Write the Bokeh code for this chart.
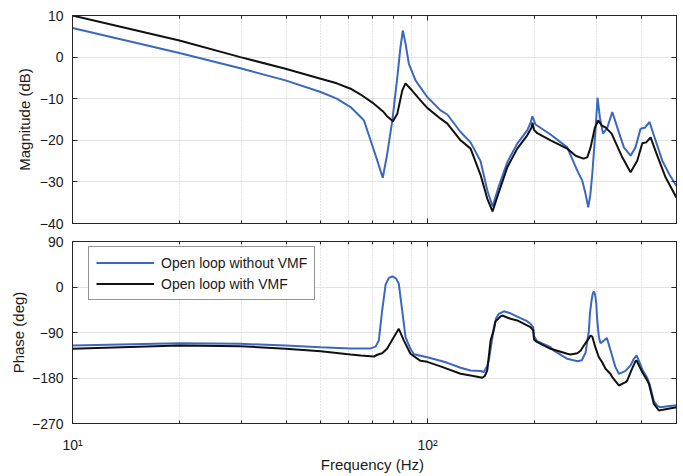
from bokeh.plotting import figure
from bokeh.layouts import column
from bokeh.models import (Range1d, FixedTicker, LinearAxis, LogAxis,
                          CustomJSTickFormatter, Legend, LegendItem)
from bokeh.embed import file_html
from bokeh.resources import INLINE

# ---- Bode data: open loop without / with VMF -------------------------------
# Magnitude (dB)
mag_nv_f = [10, 20, 29.7, 39.8, 50, 55.5, 60.7, 64.8, 66.2, 69.1, 72.2, 74.8,
            76.9, 79.6, 82.2, 83.9, 85.2, 86.7, 88.6, 92.5, 99.8, 108.8, 113.7,
            123.9, 132.2, 141, 147.3, 152.5, 158.8, 167.7, 178.9, 190.9, 195,
            197.4, 201.5, 222.1, 247.5, 264.1, 272.8, 278, 283.6, 287.5, 291.1,
            297.4, 301.2, 305.8, 312, 320.8, 331.4, 342.3, 357.3, 373.1, 385.3,
            398.1, 409, 422, 434, 458.3, 480, 502.6]
mag_nv = [7.0, 1.0, -2.7, -5.6, -8.4, -10.0, -12.0, -14.4, -15.2, -20.0, -24.9,
          -29.0, -23.5, -15.2, -4.8, 2.4, 6.4, 3.2, -1.6, -5.6, -9.6, -12.8,
          -13.8, -18.0, -20.5, -25.0, -32.0, -35.9, -31.0, -25.3, -20.8, -17.6,
          -15.8, -14.2, -16.2, -18.6, -21.7, -27.3, -29.7, -32.5, -36.1, -33.0,
          -28.1, -17.2, -9.8, -14.5, -18.4, -17.0, -13.2, -16.9, -21.7, -23.7,
          -21.7, -17.2, -17.0, -15.6, -18.8, -24.9, -28.2, -31.0]

mag_v_f = [10, 20, 29.7, 39.8, 50, 55.5, 60.7, 64.8, 70.6, 74.8, 76.9, 79.9,
           82.2, 84.9, 86.7, 89.5, 95.5, 99.8, 108.8, 113.7, 123.9, 132.2, 141,
           147.3, 152.4, 158.8, 167.7, 178.9, 190.9, 196.2, 197.6, 199.5, 203.7,
           222.1, 247.5, 261.2, 275, 281.8, 287.9, 296, 302.5, 310, 317.2, 330,
           353.6, 373.1, 389.6, 402.6, 413, 424.9, 443.6, 468.2, 502.6]
mag_v = [10.0, 4.0, 0.0, -2.8, -5.2, -6.3, -7.6, -9.0, -11.2, -13.0, -14.2,
         -15.4, -13.6, -8.0, -6.3, -7.6, -10.4, -12.2, -14.8, -16.0, -20.0, -22.0,
         -28.3, -34.0, -37.1, -32.5, -26.5, -22.0, -18.8, -17.0, -15.8, -17.5,
         -18.3, -20.0, -22.0, -23.7, -24.4, -24.1, -21.7, -17.0, -15.2, -16.5,
         -16.9, -18.4, -24.1, -27.7, -24.9, -20.7, -20.5, -19.3, -23.7, -28.9,
         -33.8]

# Phase (deg)
ph_nv_f = [10, 20, 29.7, 39.8, 50, 60.7, 69.1, 71.4, 72.9, 74.5, 76.2, 77.8,
           79.6, 81.5, 83.0, 84.9, 86.7, 89.5, 91.5, 99.8, 108.8, 113.7, 123.9,
           132.2, 141, 144.1, 147.3, 148.8, 151.5, 153.8, 156, 158.8, 164, 171.3,
           178.9, 190, 195, 198.5, 199.3, 203.7, 222.1, 227, 247.5, 264.1, 272,
           278.7, 284.8, 286.6, 289.7, 292, 294.1, 296.5, 298.8, 300.5, 303.8,
           307.1, 310.5, 320, 326, 331.4, 338, 345.8, 361.3, 373, 381.1, 387.9,
           395, 402.6, 415.9, 422, 434, 445, 453.3, 475, 502.6]
ph_nv = [-115.7, -111.1, -112.4, -115.7, -119.1, -121.5, -121.5, -118, -106,
         -46.5, 5, 18, 20.8, 17, 6.3, -48, -99.3, -122.2, -133, -139, -146, -150,
         -159.8, -165.1, -166, -168, -156, -145, -110, -79.5, -62, -53, -48, -52,
         -58.5, -67, -72.8, -80, -97, -107.2, -119.1, -126, -142.0, -146.7, -145,
         -130, -86, -53, -26.7, -13, -9, -15, -33, -65, -99.3, -111, -109, -101,
         -120, -137, -158, -171.7, -166, -155, -142, -135.5, -148, -163, -180,
         -192, -226, -236, -237.7, -236, -234]

ph_v_f = [10, 20, 29.7, 39.8, 50, 60.7, 64.8, 70.6, 72.2, 74.5, 76.9, 80.4, 83.0,
          85.8, 89.5, 95.5, 99.8, 108.8, 123.9, 132.2, 138, 142.6, 145, 147.3,
          150.5, 153.8, 155.4, 160.5, 162.3, 171.3, 178.9, 195, 198.5, 199.6,
          203.7, 222.1, 247.5, 252.8, 264.1, 269.8, 275.6, 281.8, 287.9, 291.1,
          296.5, 303.8, 310.5, 317.2, 327.7, 331.4, 345.8, 361.3, 365.3, 375,
          385.3, 387.9, 395, 402.6, 415.9, 420.2, 434, 448.3, 460, 502.6]
ph_v = [-122.3, -115.7, -117.1, -122.2, -127.0, -133.5, -135.5, -137.5, -134,
        -131, -122, -99, -82.7, -106, -132, -146, -148, -157, -171.7, -175,
        -177.5, -179.6, -176, -165, -106, -84, -68, -58.3, -56.4, -62.9, -66.2,
        -79.5, -86, -104.4, -109, -122.2, -132.1, -133.5, -130.9, -126, -115.7,
        -106, -95.9, -98, -118, -139, -149, -161.8, -172, -178.4, -194.8, -188.3,
        -184.9, -165, -146.7, -145.4, -157, -168.5, -184.9, -191.5, -231, -244.3,
        -243, -237.7]

freq_ticks = [10, 100]
freq_minor = [20, 30, 40, 50, 60, 70, 80, 90, 200, 300, 400]
mag_ticks = [-40, -30, -20, -10, 0, 10]
phase_ticks = [-270, -180, -90, 0, 90]
series_labels = ["Open loop without VMF", "Open loop with VMF"]

BLUE = "#3a68c0"
BLACK = "#111111"
AXC = "#262626"
FONT = "Liberation Sans"


def style_axis(ax, labels=True, minor=False):
    ax.axis_line_color = AXC
    ax.major_tick_line_color = AXC
    ax.major_tick_in = 5
    ax.major_tick_out = 0
    if minor:
        ax.minor_tick_line_color = AXC
        ax.minor_tick_in = 3
        ax.minor_tick_out = 0
    else:
        ax.minor_tick_line_color = None
    ax.major_label_text_font = FONT
    ax.major_label_text_color = "#1a1a1a"
    ax.axis_label_text_font = FONT
    ax.axis_label_text_font_style = "normal"
    ax.axis_label_text_font_size = "15px"
    ax.axis_label_text_color = "#1a1a1a"
    ax.major_label_text_font_size = "14px"
    if not labels:
        # frame-side ticks only: labels kept tiny and invisible
        ax.major_label_text_font_size = "1px"
        ax.major_label_text_alpha = 0
        ax.major_label_standoff = 0


def make_panel(height, yr, yticks, top, bottom):
    p = figure(width=683, height=height, x_axis_type="log",
               x_range=Range1d(10, 502.6), y_range=Range1d(*yr),
               output_backend="svg", toolbar_location=None,
               min_border_left=72, min_border_right=7,
               min_border_top=top, min_border_bottom=bottom)
    xt = FixedTicker(ticks=freq_ticks, minor_ticks=freq_minor)
    yt = FixedTicker(ticks=yticks)
    bottom_ax = p.below[0]
    left_ax = p.left[0]
    bottom_ax.ticker = xt
    left_ax.ticker = yt
    p.xgrid.ticker = xt
    p.ygrid.ticker = yt
    p.xgrid.grid_line_color = "#dcdcdc"
    p.xgrid.minor_grid_line_color = "#c8c8c8"
    p.xgrid.minor_grid_line_dash = "1 2"
    p.ygrid.grid_line_color = "#e2e2e2"
    p.outline_line_color = AXC
    p.background_fill_color = "white"
    p.border_fill_color = "white"

    style_axis(left_ax)
    left_ax.major_label_standoff = 9

    right = LinearAxis(ticker=yt)
    style_axis(right, labels=False)
    p.add_layout(right, "right")

    above = LogAxis(ticker=xt)
    style_axis(above, labels=False, minor=True)
    p.add_layout(above, "above")
    return p, bottom_ax, left_ax


# Magnitude panel
p1, x1, y1 = make_panel(232, (-40, 10), mag_ticks, 15, 9)
style_axis(x1, labels=False, minor=True)
y1.axis_label = "Magnitude (dB)"
y1.axis_label_standoff = 4
p1.line(mag_nv_f, mag_nv, line_color=BLUE, line_width=2)
p1.line(mag_v_f, mag_v, line_color=BLACK, line_width=2)

# Phase panel
p2, x2, y2 = make_panel(244, (-270, 90), phase_ticks, 9, 53)
style_axis(x2, labels=True, minor=True)
x2.major_label_standoff = 13
x2.formatter = CustomJSTickFormatter(
    code="return tick == 10 ? '10\u00b9' : (tick == 100 ? '10\u00b2' : '');")
x2.axis_label = "Frequency  (Hz)"
x2.axis_label_standoff = 0
y2.axis_label = "Phase (deg)"
y2.axis_label_standoff = 2
r_nv = p2.line(ph_nv_f, ph_nv, line_color=BLUE, line_width=2)
r_v = p2.line(ph_v_f, ph_v, line_color=BLACK, line_width=2)

legend = Legend(items=[LegendItem(label=series_labels[0], renderers=[r_nv]),
                       LegendItem(label=series_labels[1], renderers=[r_v])],
                location=(16, 123))
legend.border_line_color = AXC
legend.border_line_width = 1
legend.background_fill_color = "white"
legend.background_fill_alpha = 1
legend.label_text_font = FONT
legend.label_text_font_size = "14px"
legend.label_text_color = "#1a1a1a"
legend.glyph_width = 58
legend.glyph_height = 17
legend.label_height = 17
legend.label_standoff = 7
legend.padding = 7
legend.spacing = 4
legend.margin = 0
p2.add_layout(legend)

layout = column(p1, p2, spacing=0)

open("out.html", "w").write(file_html(layout, INLINE))
